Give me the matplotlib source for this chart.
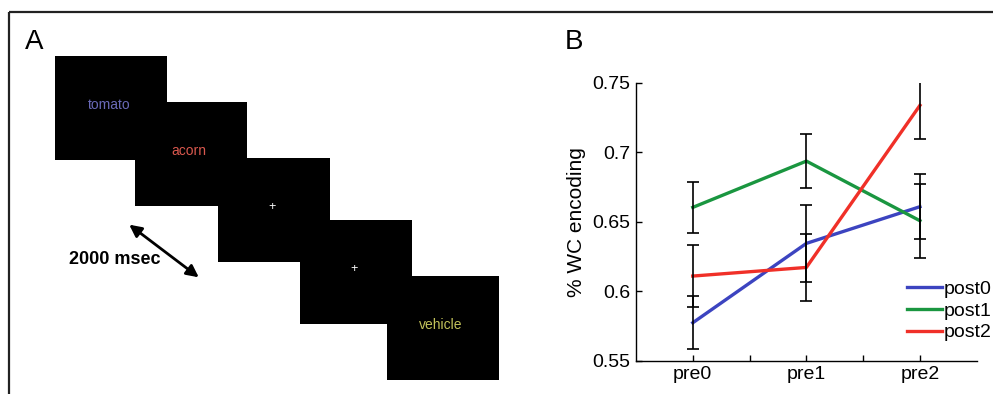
import numpy as np
import matplotlib.pyplot as plt
from matplotlib.patches import Rectangle, FancyArrowPatch

plt.rcParams['font.family'] = ['Liberation Sans', 'DejaVu Sans']

# panel B data
conditions = ['pre0', 'pre1', 'pre2']
series_names = ['post0', 'post1', 'post2']
post0 = [0.5773, 0.6344, 0.6608]
post1 = [0.6603, 0.6936, 0.6507]
post2 = [0.6109, 0.6171, 0.7337]
post0_err = [0.0190, 0.0275, 0.0235]
post1_err = [0.0185, 0.0196, 0.0266]
post2_err = [0.0224, 0.0240, 0.0244]
yticks = [0.55, 0.6, 0.65, 0.7, 0.75]
ytick_labels = ['0.55', '0.6', '0.65', '0.7', '0.75']

# panel A schematic (words shown on each screen)
screen_words = ['tomato', 'acorn', '+', '+', 'vehicle']
word_colors = ['#6a6ab8', '#d9584e', 'white', 'white', '#c2c25a']

colors = ['#3c44c0', '#1a9640', '#f03028']

fig = plt.figure(figsize=(9.93, 3.94), dpi=100)

# overlay axes in pixel units for schematic + frame
ov = fig.add_axes([0, 0, 1, 1])
ov.set_xlim(0, 993)
ov.set_ylim(394, 0)
ov.axis('off')

# outer frame (top and left edges visible)
ov.plot([9, 993], [12, 12], color='#222222', lw=1.6, solid_capstyle='butt')
ov.plot([9, 9], [12, 394], color='#222222', lw=1.6, solid_capstyle='butt')

ov.text(25, 49, 'A', fontsize=20, ha='left', va='baseline')
ov.text(565, 49, 'B', fontsize=20, ha='left', va='baseline')

# stimulus screens, staircase
x0, y0 = 55, 56
w, h = 112, 104
steps_x = [0, 80, 163, 245, 332]
steps_y = [0, 46, 102, 164, 220]
for i, word in enumerate(screen_words):
    rx = x0 + steps_x[i]
    ry = y0 + steps_y[i]
    ov.add_patch(Rectangle((rx, ry), w, h, facecolor='black', edgecolor='none'))
    fs = 10 if word != '+' else 9
    ov.text(rx + w / 2 - 2, ry + h / 2 - 3, word, color=word_colors[i],
            fontsize=fs, ha='center', va='center')

arrow = FancyArrowPatch((127, 223), (201, 279), arrowstyle='<|-|>',
                        mutation_scale=18, color='black', lw=2)
ov.add_patch(arrow)
ov.text(115, 260, '2000 msec', fontsize=13, fontweight='bold',
        ha='center', va='center')

# panel B
ax = fig.add_axes([0.6405, 0.0845, 0.3431, 0.7056])
x = np.arange(1, len(conditions) + 1)
for vals, errs, c, name in zip([post0, post1, post2],
                               [post0_err, post1_err, post2_err],
                               colors, series_names):
    ax.plot(x, vals, color=c, lw=2.4, label=name, zorder=2)
    ax.errorbar(x, vals, yerr=errs, fmt='none', ecolor='black',
                elinewidth=1.2, capsize=4.5, capthick=1.2, zorder=3)

ax.set_xlim(0.5, 3.5)
ax.set_ylim(0.55, 0.75)
ax.set_xticks([1, 1.5, 2, 2.5, 3])
ax.set_xticklabels(['pre0', '', 'pre1', '', 'pre2'])
ax.set_yticks(yticks)
ax.set_yticklabels(ytick_labels)
ax.tick_params(direction='in', length=4, width=1, labelsize=14, pad=4)
ax.spines['top'].set_visible(False)
ax.spines['right'].set_visible(False)
ax.spines['left'].set_linewidth(1)
ax.spines['bottom'].set_linewidth(1)
ax.set_ylabel('% WC encoding', fontsize=15, labelpad=5)

ax.legend(loc='upper left', bbox_to_anchor=(0.795, 0.29), frameon=False,
          fontsize=14, handlelength=1.8, handletextpad=0.1,
          labelspacing=0.22, borderpad=0, borderaxespad=0)

fig.savefig('out.png', dpi=100)
